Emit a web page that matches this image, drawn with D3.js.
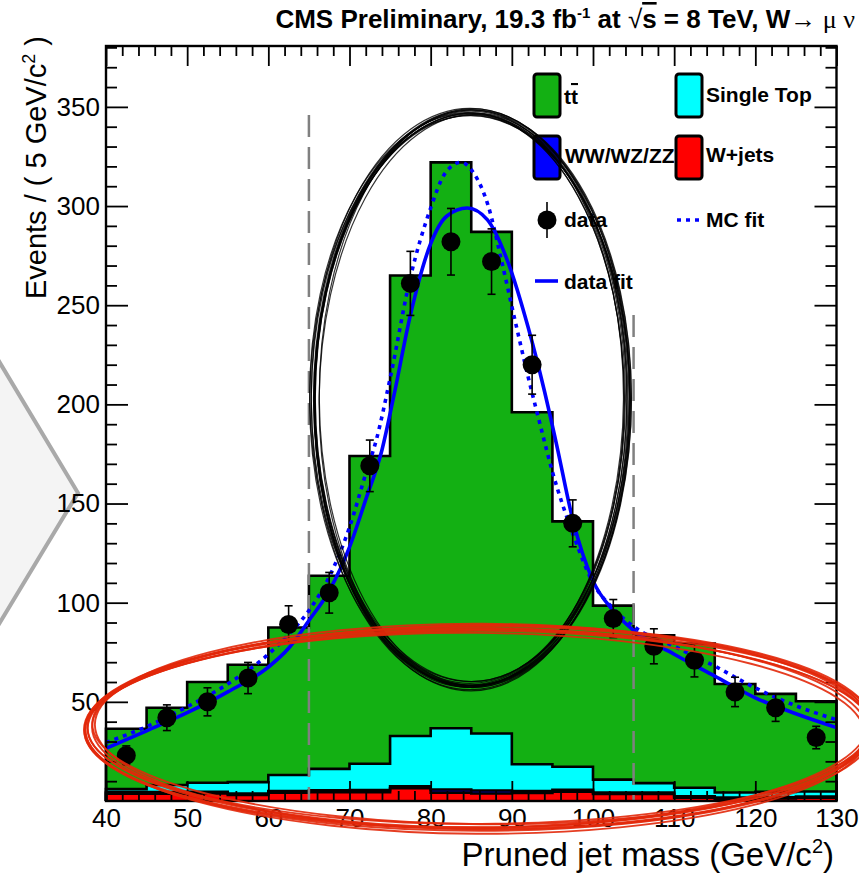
<!DOCTYPE html>
<html>
<head>
<meta charset="utf-8">
<script src="https://cdn.jsdelivr.net/npm/d3@7"></script>
<style>
  html, body { margin: 0; padding: 0; background: #fff; }
  svg { display: block; font-family: "Liberation Sans", Arial, Helvetica, sans-serif; }
</style>
</head>
<body>
<svg id="chart" width="859" height="876"></svg>
<script>
// Pruned jet mass, 5 GeV bins from 40 to 130 GeV/c^2
const binLow = [40, 45, 50, 55, 60, 65, 70, 75, 80, 85, 90, 95, 100, 105, 110, 115, 120, 125];
const binWidth = 5;

// Simulated contributions per bin (events / 5 GeV)
const wjets     = [3.7, 3.7, 3.8, 3.0, 4.2, 4.5, 4.5, 6.4, 4.2, 3.8, 4.0, 4.7, 3.5, 3.5, 1.7, 1.2, 1.3, 1.7];
const diboson   = [0.8, 0.8, 0.8, 0.8, 0.8, 0.9, 1.0, 1.0, 1.6, 1.5, 1.0, 0.9, 0.8, 0.7, 0.7, 0.6, 0.6, 0.6];
const singleTop = [1.5, 3.6, 4.6, 5.7, 8.1, 10.8, 13.3, 25.4, 30.9, 28.7, 13.5, 11.7, 6.5, 4.8, 4.3, 2.5, 2.7, 2.5];
const ttbar     = [30.4, 38.9, 50.8, 59.2, 74.4, 97.4, 155.2, 232.2, 285.3, 253.0, 177.5, 123.7, 87.7, 74.5, 72.7, 54.7, 49.4, 45.5];

// Observed events at bin centres
const dataMass   = [42.5, 47.5, 52.5, 57.5, 62.5, 67.5, 72.5, 77.5, 82.5, 87.5, 92.5, 97.5, 102.5, 107.5, 112.5, 117.5, 122.5, 127.5];
const dataCounts = [23, 42, 50, 62, 89, 105, 169, 261, 282, 272, 220, 140, 92, 78, 71, 55, 47, 32];

// Fitted shapes
const dataFitMass = [40, 45, 50, 55, 60, 62.5, 65, 67.5, 70, 72, 74, 75.5, 77.5, 80, 82, 84.5, 87, 89.5, 92, 94, 95.5, 97.5, 100, 102.5, 105, 110, 115, 120, 125, 130];
const dataFitVal  = [26.5, 35.4, 44.5, 55, 67.5, 77, 91, 106, 128, 152, 177, 205, 245, 281, 295, 299, 293, 272, 239, 207, 180, 142, 111, 96, 86, 74, 63, 52, 44, 37];
const mcFitMass = [40, 45, 50, 55, 60, 62.5, 65, 67.5, 70, 72, 73.3, 75, 77.5, 80, 81.7, 83.7, 85.4, 87.1, 88.7, 90.3, 92, 93.6, 95, 97.5, 100, 102.5, 105, 110, 115, 120, 125, 130];
const mcFitVal  = [29.5, 37.5, 47.5, 59, 74, 84, 96, 113, 138, 165, 182, 213, 264, 299, 316, 322, 316, 300, 273, 244, 214, 188, 166, 135, 110, 97, 88, 78, 68, 57, 48, 41];

// Axis ticks
const xTicks = [40, 50, 60, 70, 80, 90, 100, 110, 120, 130];
const yTicks = [50, 100, 150, 200, 250, 300, 350];
const windowEdges = [65, 105];

const svg = d3.select("#chart");
const fontSans = '"Liberation Sans", Arial, Helvetica, sans-serif';

const x = d3.scaleLinear().domain([40, 130]).range([106, 836.5]);
const y = d3.scaleLinear().domain([0, 380.7]).range([801, 46]);

// decorative chevron in the left margin
svg.append("polygon")
  .attr("points", "-30,313 78,493 -30,672")
  .attr("fill", "#f4f4f4").attr("stroke", "#a9a9a9").attr("stroke-width", 4);

// ---------- stacked histogram ----------
const rows = binLow.map((b, i) => ({ b, wjets: wjets[i], diboson: diboson[i], singleTop: singleTop[i], ttbar: ttbar[i] }));
const keys = ["wjets", "diboson", "singleTop", "ttbar"];
const colors = { wjets: "#ff0000", diboson: "#0000ff", singleTop: "#00ffff", ttbar: "#13b013" };
const series = d3.stack().keys(keys)(rows);

const stepPts = s => s.flatMap((d, i) => [
  { m: binLow[i], lo: d[0], hi: d[1] },
  { m: binLow[i] + binWidth, lo: d[0], hi: d[1] }
]);
const area = d3.area().x(d => x(d.m)).y0(d => y(d.lo)).y1(d => y(d.hi));
const outline = d3.line().x(d => x(d.m)).y(d => y(d.v));

const hist = svg.append("g");
series.forEach(s => {
  hist.append("path").attr("d", area(stepPts(s))).attr("fill", colors[s.key]).attr("stroke", "none");
});
series.forEach(s => {
  const pts = [{ m: 40, v: 0 }, ...stepPts(s).map(p => ({ m: p.m, v: p.hi })), { m: 130, v: 0 }];
  hist.append("path").attr("d", outline(pts)).attr("fill", "none")
    .attr("stroke", "#000").attr("stroke-width", 2.6).attr("stroke-linejoin", "miter");
});

// mass window
const windowTop = [115, 315];
windowEdges.forEach((m, i) => {
  svg.append("line")
    .attr("x1", x(m)).attr("x2", x(m)).attr("y1", windowTop[i]).attr("y2", y(0))
    .attr("stroke", "#808080").attr("stroke-width", 2.5).attr("stroke-dasharray", "22,10");
});

// ---------- fits ----------
const fitLine = d3.line().x(d => x(d[0])).y(d => y(d[1])).curve(d3.curveMonotoneX);
svg.append("path")
  .attr("d", fitLine(mcFitMass.map((m, i) => [m, mcFitVal[i]])))
  .attr("fill", "none").attr("stroke", "#0000ff").attr("stroke-width", 3.6).attr("stroke-dasharray", "4,5");
svg.append("path")
  .attr("d", fitLine(dataFitMass.map((m, i) => [m, dataFitVal[i]])))
  .attr("fill", "none").attr("stroke", "#0000ff").attr("stroke-width", 3.6);

// ---------- data points ----------
const pts = svg.append("g");
dataMass.forEach((m, i) => {
  const n = dataCounts[i], e = Math.sqrt(n);
  const cx = x(m);
  pts.append("line").attr("x1", cx).attr("x2", cx).attr("y1", y(n - e)).attr("y2", y(n + e))
    .attr("stroke", "#000").attr("stroke-width", 1.6);
  [n - e, n + e].forEach(v => pts.append("line").attr("x1", cx - 4).attr("x2", cx + 4)
    .attr("y1", y(v)).attr("y2", y(v)).attr("stroke", "#000").attr("stroke-width", 1.6));
  pts.append("circle").attr("cx", cx).attr("cy", y(n)).attr("r", 9.5).attr("fill", "#000");
});

// ---------- legend ----------
const leg = svg.append("g").attr("font-family", fontSans).attr("font-weight", "bold").attr("font-size", 21);
const box = (bx, by, c) => leg.append("rect").attr("x", bx).attr("y", by).attr("width", 26).attr("height", 43)
  .attr("rx", 3).attr("fill", c).attr("stroke", "#000").attr("stroke-width", 3);
box(534, 74, colors.ttbar);
box(676, 74, colors.singleTop);
box(534, 136, colors.diboson);
box(676, 136, colors.wjets);
const tt = leg.append("text").attr("x", 564).attr("y", 104);
tt.append("tspan").text("t");
tt.append("tspan").style("text-decoration", "overline").text("t");
leg.append("text").attr("x", 706).attr("y", 102).text("Single Top");
leg.append("text").attr("x", 565).attr("y", 163).text("WW/WZ/ZZ");
leg.append("text").attr("x", 706).attr("y", 162).text("W+jets");
leg.append("line").attr("x1", 547).attr("x2", 547).attr("y1", 202).attr("y2", 238).attr("stroke", "#000").attr("stroke-width", 1.6);
leg.append("circle").attr("cx", 547).attr("cy", 220).attr("r", 9.5).attr("fill", "#000");
leg.append("text").attr("x", 564).attr("y", 227).text("data");
leg.append("line").attr("x1", 677).attr("x2", 701).attr("y1", 220).attr("y2", 220)
  .attr("stroke", "#0000ff").attr("stroke-width", 3.6).attr("stroke-dasharray", "4,5");
leg.append("text").attr("x", 706).attr("y", 227).text("MC fit");
leg.append("line").attr("x1", 535).attr("x2", 558).attr("y1", 281).attr("y2", 281)
  .attr("stroke", "#0000ff").attr("stroke-width", 3.6);
leg.append("text").attr("x", 564).attr("y", 289).text("data fit");

// ---------- hand-drawn black ellipse around the peak ----------
const blackG = svg.append("g").attr("fill", "none").attr("stroke", "#000");
for (let k = 0; k < 14; k++) {
  blackG.append("ellipse")
    .attr("cx", 471 + 2.2 * Math.sin(k * 1.9))
    .attr("cy", 399 + 2.0 * Math.cos(k * 2.3))
    .attr("rx", 157 + 3.2 * Math.sin(k * 2.7))
    .attr("ry", 287 + 2.8 * Math.cos(k * 1.3))
    .attr("transform", `rotate(${0.8 * Math.sin(k * 3.1)},471,399)`)
    .attr("stroke-width", 1.2).attr("stroke-opacity", 0.8);
}

// ---------- frame and axes ----------
svg.append("rect").attr("x", x(40)).attr("y", y(380.7)).attr("width", x(130) - x(40)).attr("height", y(0) - y(380.7))
  .attr("fill", "none").attr("stroke", "#000").attr("stroke-width", 2.4);

const xMinor = d3.range(42, 130, 2).filter(v => v % 10 !== 0);
const yMinor = d3.range(10, 381, 10).filter(v => v % 50 !== 0);

function styleAxis(g) {
  g.select(".domain").remove();
  g.selectAll(".tick line").attr("stroke", "#000").attr("stroke-width", 1.8);
  g.attr("font-family", fontSans).attr("font-size", 26);
  g.selectAll(".tick text").attr("fill", "#000");
}
svg.append("g").attr("transform", `translate(0,${y(0)})`)
  .call(d3.axisBottom(x).tickValues(xTicks).tickSize(-20).tickPadding(8).tickFormat(d3.format("d"))).call(styleAxis);
svg.append("g").attr("transform", `translate(0,${y(0)})`)
  .call(d3.axisBottom(x).tickValues(xMinor).tickSize(-10).tickFormat("")).call(styleAxis);
svg.append("g").attr("transform", `translate(0,${y(380.7)})`)
  .call(d3.axisTop(x).tickValues(xTicks).tickSize(-20).tickFormat("")).call(styleAxis);
svg.append("g").attr("transform", `translate(0,${y(380.7)})`)
  .call(d3.axisTop(x).tickValues(xMinor).tickSize(-10).tickFormat("")).call(styleAxis);
svg.append("g").attr("transform", `translate(${x(40)},0)`)
  .call(d3.axisLeft(y).tickValues(yTicks).tickSize(-22).tickPadding(6).tickFormat(d3.format("d"))).call(styleAxis);
svg.append("g").attr("transform", `translate(${x(40)},0)`)
  .call(d3.axisLeft(y).tickValues(yMinor).tickSize(-11).tickFormat("")).call(styleAxis);
svg.append("g").attr("transform", `translate(${x(130)},0)`)
  .call(d3.axisRight(y).tickValues(yTicks).tickSize(-22).tickFormat("")).call(styleAxis);
svg.append("g").attr("transform", `translate(${x(130)},0)`)
  .call(d3.axisRight(y).tickValues(yMinor).tickSize(-11).tickFormat("")).call(styleAxis);

// axis titles
const yTitle = svg.append("text").attr("transform", "translate(46,36) rotate(-90)")
  .attr("text-anchor", "end").attr("font-family", fontSans).attr("font-size", 29);
yTitle.append("tspan").text("Events / ( 5 GeV/c");
yTitle.append("tspan").attr("dy", -11).attr("font-size", 18).text("2");
yTitle.append("tspan").attr("dy", 11).text(" )");

const xTitle = svg.append("text").attr("x", 834).attr("y", 866)
  .attr("text-anchor", "end").attr("font-family", fontSans).attr("font-size", 33);
xTitle.append("tspan").text("Pruned jet mass (GeV/c");
xTitle.append("tspan").attr("dy", -13).attr("font-size", 20).text("2");
xTitle.append("tspan").attr("dy", 13).text(")");

// header
const title = svg.append("text").attr("x", 855).attr("y", 28).attr("text-anchor", "end")
  .attr("font-family", fontSans).attr("font-weight", "bold").attr("font-size", 26);
title.append("tspan").text("CMS Preliminary, 19.3 fb");
title.append("tspan").attr("dy", -10).attr("font-size", 15).text("-1");
title.append("tspan").attr("dy", 10).text(" at ");
title.append("tspan").attr("font-weight", "normal").text("√");
title.append("tspan").style("text-decoration", "overline").text("s");
title.append("tspan").text(" = 8 TeV, W");
title.append("tspan").attr("font-weight", "normal").text("→");
title.append("tspan").attr("font-family", '"Liberation Serif", "Times New Roman", serif')
  .attr("font-weight", "normal").text(" μ ν");

// ---------- hand-drawn red ellipse around the tails ----------
const redG = svg.append("g").attr("fill", "none").attr("stroke", "#e2280a");
for (let k = 0; k < 9; k++) {
  redG.append("ellipse")
    .attr("cx", 479 + 3.5 * Math.sin(k * 1.7))
    .attr("cy", 728 + 2.8 * Math.cos(k * 2.1))
    .attr("rx", 391 + 3.5 * Math.cos(k * 2.9))
    .attr("ry", 100 + 3 * Math.sin(k * 1.3))
    .attr("transform", `rotate(${0.5 * Math.sin(k * 2.5)},479,728)`)
    .attr("stroke-width", 1.9).attr("stroke-opacity", 0.9);
}
</script>
</body>
</html>
